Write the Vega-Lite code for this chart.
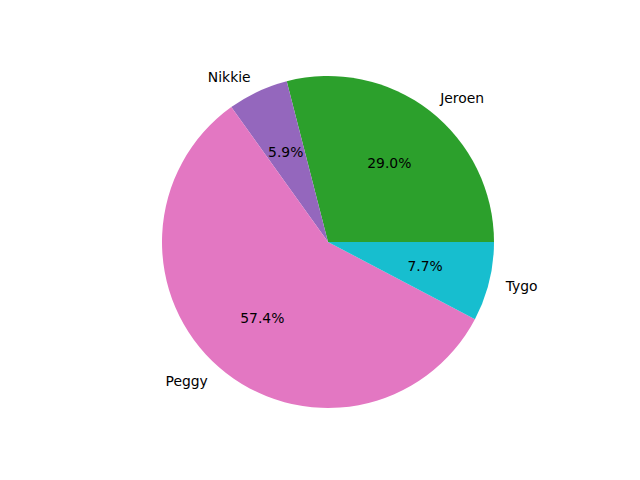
{
  "$schema": "https://vega.github.io/schema/vega-lite/v6.json",
  "width": 624,
  "height": 476,
  "autosize": {"type": "none"},
  "padding": {"left": 16, "top": 4, "right": 0, "bottom": 0},
  "background": "white",
  "config": {"view": {"stroke": null}, "text": {"font": "DejaVu Sans", "fontSize": 13.9, "color": "black"}},
  "data": {"values": [
    {"name": "Jeroen", "share": 0.290},
    {"name": "Nikkie", "share": 0.059},
    {"name": "Peggy", "share": 0.574},
    {"name": "Tygo", "share": 0.077}
  ]},
  "encoding": {
    "theta": {"field": "share", "type": "quantitative", "stack": true, "scale": {"range": [1.5707963, -4.712389]}},
    "order": {"field": "name", "type": "nominal", "sort": "ascending"}
  },
  "layer": [
    {
      "mark": {"type": "arc", "outerRadius": 166},
      "encoding": {
        "color": {"field": "name", "type": "nominal", "legend": null,
          "scale": {"domain": ["Jeroen", "Nikkie", "Peggy", "Tygo"], "range": ["#2ca02c", "#9467bd", "#e377c2", "#17becf"]}}
      }
    },
    {
      "mark": {"type": "text", "radius": 100, "align": "center", "baseline": "middle", "dy": 1.5},
      "encoding": {"text": {"field": "share", "type": "quantitative", "format": ".1%"}}
    },
    {
      "mark": {"type": "text", "radius": 183, "align": "left", "baseline": "middle", "dy": 1.5},
      "encoding": {"text": {"condition": {"test": "datum.name == 'Jeroen' || datum.name == 'Tygo'", "field": "name"}, "value": ""}}
    },
    {
      "mark": {"type": "text", "radius": 183, "align": "right", "baseline": "middle", "dy": 1.5},
      "encoding": {"text": {"condition": {"test": "datum.name == 'Nikkie' || datum.name == 'Peggy'", "field": "name"}, "value": ""}}
    }
  ]
}
